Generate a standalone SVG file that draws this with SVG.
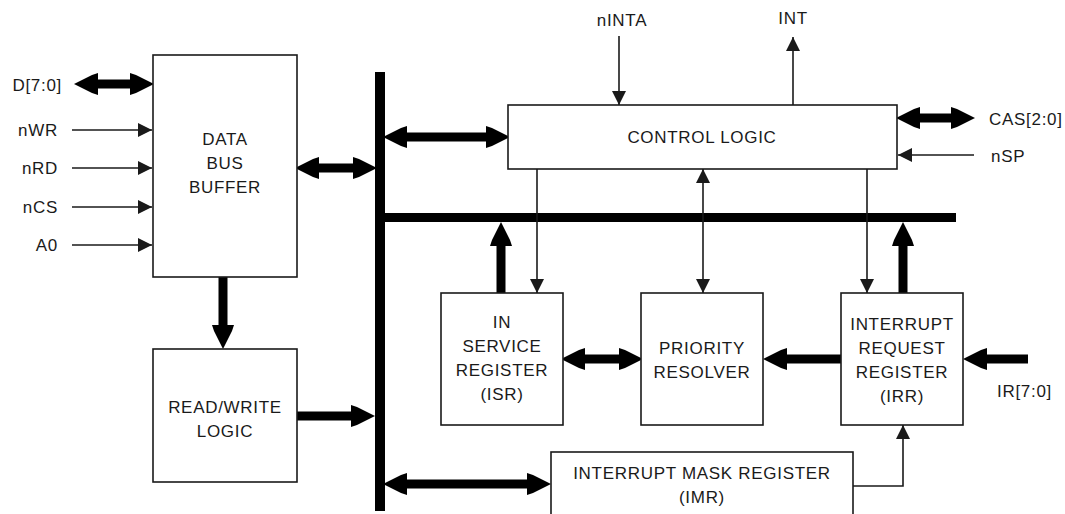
<svg xmlns="http://www.w3.org/2000/svg" width="1065" height="514" viewBox="0 0 1065 514">
  <style>
    text { font-family: "Liberation Sans", Arial, sans-serif; font-size: 17px; fill: #1a1a1a; letter-spacing: 0.7px; }
    .box { fill: #ffffff; stroke: #1a1a1a; stroke-width: 1.6; }
    .c { text-anchor: middle; }
    .r { text-anchor: end; }
    .thin { fill: none; stroke: #1a1a1a; stroke-width: 1.6; }
    .thick { fill: none; stroke: #000000; stroke-width: 9; }
    .bus { fill: #000000; }
  </style>
  <defs>
    <!-- small filled head for single-wire signals, tip at the path end -->
    <marker id="ah" markerUnits="userSpaceOnUse" markerWidth="14" markerHeight="14" viewBox="0 0 12 12" refX="12" refY="6" orient="auto-start-reverse">
      <path d="M0,0 L12,6 L0,12 Z" fill="#1a1a1a"/>
    </marker>
    <!-- large head for bus arrows, base at the path end -->
    <marker id="bh" markerUnits="userSpaceOnUse" markerWidth="24" markerHeight="24" viewBox="0 0 24 24" refX="0" refY="12" orient="auto-start-reverse">
      <path d="M0,1 L6,3 L24,12 L6,21 L0,23 Z" fill="#000000"/>
    </marker>
  </defs>

  <!-- internal buses -->
  <g id="buses">
    <rect class="bus" x="375" y="72" width="10" height="439"/>
    <rect class="bus" x="375" y="213" width="581" height="9"/>
  </g>

  <!-- connectors -->
  <g id="connectors">
    <!-- bus arrows -->
    <path class="thick" d="M98,84 H130" marker-start="url(#bh)" marker-end="url(#bh)"/>
    <path class="thick" d="M319,168 H353" marker-start="url(#bh)" marker-end="url(#bh)"/>
    <path class="thick" d="M407,137 H486" marker-start="url(#bh)" marker-end="url(#bh)"/>
    <path class="thick" d="M920,118 H951" marker-start="url(#bh)" marker-end="url(#bh)"/>
    <path class="thick" d="M501,293 V246" marker-end="url(#bh)"/>
    <path class="thick" d="M585,359 H619" marker-start="url(#bh)" marker-end="url(#bh)"/>
    <path class="thick" d="M841,359 H787" marker-end="url(#bh)"/>
    <path class="thick" d="M1028,359 H987" marker-end="url(#bh)"/>
    <path class="thick" d="M903,293 V246" marker-end="url(#bh)"/>
    <path class="thick" d="M407,484 H527" marker-start="url(#bh)" marker-end="url(#bh)"/>
    <path class="thick" d="M297,416 H351" marker-end="url(#bh)"/>
    <path class="thick" d="M223,277 V325" marker-end="url(#bh)"/>

    <!-- single-wire signals -->
    <path class="thin" d="M72,130 H152" marker-end="url(#ah)"/>
    <path class="thin" d="M72,168 H152" marker-end="url(#ah)"/>
    <path class="thin" d="M72,207 H152" marker-end="url(#ah)"/>
    <path class="thin" d="M72,245 H152" marker-end="url(#ah)"/>
    <path class="thin" d="M619,36 V105" marker-end="url(#ah)"/>
    <path class="thin" d="M793,105 V37" marker-end="url(#ah)"/>
    <path class="thin" d="M974,155 H898" marker-end="url(#ah)"/>
    <path class="thin" d="M537,169 V293" marker-end="url(#ah)"/>
    <path class="thin" d="M703,169 V293" marker-start="url(#ah)" marker-end="url(#ah)"/>
    <path class="thin" d="M867,169 V293" marker-end="url(#ah)"/>
    <path class="thin" d="M853,486 H903 V425" marker-end="url(#ah)"/>
  </g>

  <!-- pin labels -->
  <g id="pins">
    <text class="r" x="62" y="91">D[7:0]</text>
    <text class="r" x="58" y="136">nWR</text>
    <text class="r" x="58" y="174">nRD</text>
    <text class="r" x="58" y="213">nCS</text>
    <text class="r" x="58" y="251">A0</text>
    <text class="c" x="622" y="26">nINTA</text>
    <text class="c" x="793" y="24">INT</text>
    <text x="989" y="125">CAS[2:0]</text>
    <text x="991" y="162">nSP</text>
    <text x="997" y="397">IR[7:0]</text>
  </g>

  <g id="data-bus-buffer">
    <rect class="box" x="153" y="55" width="144" height="222"/>
    <text class="c" x="225" y="145">DATA</text>
    <text class="c" x="225" y="169">BUS</text>
    <text class="c" x="225" y="193">BUFFER</text>
  </g>

  <g id="read-write-logic">
    <rect class="box" x="153" y="349" width="144" height="133"/>
    <text class="c" x="225" y="413">READ/WRITE</text>
    <text class="c" x="225" y="437">LOGIC</text>
  </g>

  <g id="control-logic">
    <rect class="box" x="508" y="105" width="389" height="64"/>
    <text class="c" x="702" y="143">CONTROL LOGIC</text>
  </g>

  <g id="isr">
    <rect class="box" x="441" y="293" width="122" height="132"/>
    <text class="c" x="502" y="328">IN</text>
    <text class="c" x="502" y="352">SERVICE</text>
    <text class="c" x="502" y="376">REGISTER</text>
    <text class="c" x="502" y="400">(ISR)</text>
  </g>

  <g id="priority-resolver">
    <rect class="box" x="641" y="293" width="122" height="132"/>
    <text class="c" x="702" y="354">PRIORITY</text>
    <text class="c" x="702" y="378">RESOLVER</text>
  </g>

  <g id="irr">
    <rect class="box" x="841" y="293" width="122" height="132"/>
    <text class="c" x="902" y="330">INTERRUPT</text>
    <text class="c" x="902" y="354">REQUEST</text>
    <text class="c" x="902" y="378">REGISTER</text>
    <text class="c" x="902" y="402">(IRR)</text>
  </g>

  <g id="imr">
    <rect class="box" x="551" y="452" width="302" height="70"/>
    <text class="c" x="702" y="479">INTERRUPT MASK REGISTER</text>
    <text class="c" x="702" y="503">(IMR)</text>
  </g>
</svg>
